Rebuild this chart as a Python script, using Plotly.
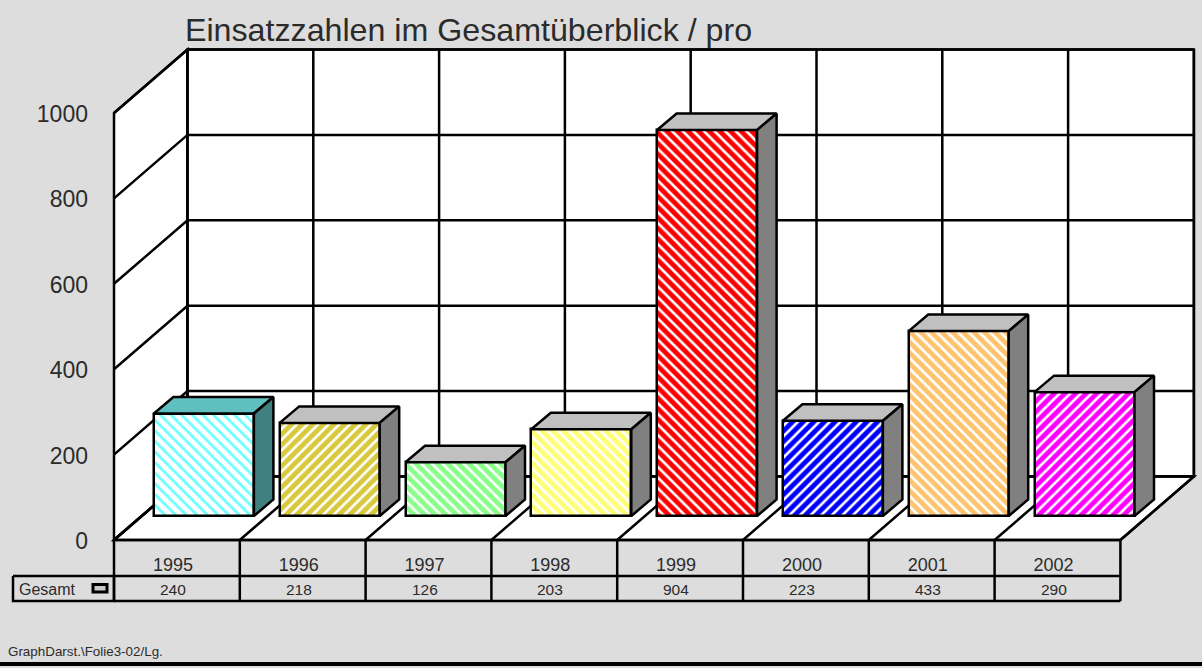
import plotly.graph_objects as go

# ---- data ----
categories = ["1995", "1996", "1997", "1998", "1999", "2000", "2001", "2002"]
values = [240, 218, 126, 203, 904, 223, 433, 290]
y_ticks = [0, 200, 400, 600, 800, 1000]
series_name = "Gesamt"
title_text = "Einsatzzahlen im Gesamtüberblick / pro"
footer_text = "GraphDarst.\\Folie3-02/Lg."
face_colors = ["#FFFFFF", "#D8C83C", "#88FF88", "#FFFF77", "#FF0000", "#0000FF", "#FFC36E", "#FF00FF"]
stripe_colors = ["#66FFFF", "#FFFFFF", "#FFFFFF", "#FFFFFF", "#FFFFFF", "#FFFFFF", "#FFFFFF", "#FFFFFF"]
stripe_shapes = ["\\", "/", "\\", "\\", "\\", "/", "\\", "/"]
top_colors = ["#60BFBF", "#C0C0C0", "#C0C0C0", "#C0C0C0", "#C0C0C0", "#C0C0C0", "#C0C0C0", "#C0C0C0"]
side_colors = ["#408080", "#808080", "#808080", "#808080", "#808080", "#808080", "#808080", "#808080"]

# ---- scale: pixels per data unit, origin of the front axis corner ----
W, H = 1202, 668
PX_CAT, PX_VAL = 125.8, 0.427
OX, OY = 114, 540
BG = "#DDDDDD"
TXT = "#2B2B2B"
LW = 2.5
FONT = "Liberation Sans"


def dx(px):
    return px / PX_CAT


def dy(px):
    return px / PX_VAL


n = len(categories)
DEPTH_X, DEPTH_Y = dx(73.5), dy(63.5)  # floor depth
TOP = max(y_ticks)
BAR_W = dx(100)
BAR_SHIFT = dx(27)
BAR_BASE = dy(24)
BAR_DX, BAR_DY = dx(19.5), dy(16.5)
ROW1, ROW2 = -dy(36), -dy(61)
LEFT_CELL = -dx(101)
LABEL_SHIFT = dx(4)

shapes = []


def poly(points, fill=None, width=LW):
    path = "M " + " L ".join(f"{x},{y}" for x, y in points) + (" Z" if fill else "")
    shapes.append(dict(type="path", path=path, xref="x", yref="y", layer="below",
                       fillcolor=fill or "rgba(0,0,0,0)",
                       line=dict(color="black", width=width)))


# walls and floor
poly([(0, 0), (DEPTH_X, DEPTH_Y), (DEPTH_X, TOP + DEPTH_Y), (0, TOP)], "white")
poly([(DEPTH_X, DEPTH_Y), (n + DEPTH_X, DEPTH_Y), (n + DEPTH_X, TOP + DEPTH_Y), (DEPTH_X, TOP + DEPTH_Y)], "white")
poly([(0, 0), (n, 0), (n + DEPTH_X, DEPTH_Y), (DEPTH_X, DEPTH_Y)], "white")
# grid
for t in y_ticks:
    poly([(0, t), (DEPTH_X, t + DEPTH_Y), (n + DEPTH_X, t + DEPTH_Y)])
for i in range(n + 1):
    poly([(i, 0), (i + DEPTH_X, DEPTH_Y), (i + DEPTH_X, TOP + DEPTH_Y)])
# data table
for y in (0, ROW1, ROW2):
    poly([(0, y), (n, y)])
for i in range(n + 1):
    poly([(i, 0), (i, ROW2)])
poly([(LEFT_CELL, ROW1), (0, ROW1), (0, ROW2), (LEFT_CELL, ROW2), (LEFT_CELL, ROW1)])
# legend key
poly([(-dx(21), -dy(44.5)), (-dx(7), -dy(44.5)), (-dx(7), -dy(52)), (-dx(21), -dy(52)), (-dx(21), -dy(44.5))], "#CCCCCC", 3)
# bottom rule
shapes.append(dict(type="rect", xref="paper", yref="paper", x0=0, x1=1, y0=1 - 666 / H, y1=1 - 662 / H,
                   fillcolor="black", line=dict(width=0), layer="above"))

fig = go.Figure()
xpos = [i + 0.5 + BAR_SHIFT for i in range(n)]
fig.add_trace(go.Bar(
    x=xpos, y=values, base=BAR_BASE, width=BAR_W,
    marker=dict(line=dict(color="black", width=LW),
                pattern=dict(shape=stripe_shapes, fgcolor=stripe_colors, bgcolor=face_colors,
                             size=7.5, solidity=0.35, fillmode="replace")),
    hoverinfo="skip", showlegend=False))

for xc, v, tc, sc in zip(xpos, values, top_colors, side_colors):
    l, r = xc - BAR_W / 2, xc + BAR_W / 2
    b, t = BAR_BASE, BAR_BASE + v
    fig.add_trace(go.Scatter(
        x=[l, r, r + BAR_DX, l + BAR_DX, l], y=[t, t, t + BAR_DY, t + BAR_DY, t],
        mode="lines", fill="toself", fillcolor=tc, line=dict(color="black", width=LW),
        hoverinfo="skip", showlegend=False))
    fig.add_trace(go.Scatter(
        x=[r, r + BAR_DX, r + BAR_DX, r, r], y=[b, b + BAR_DY, t + BAR_DY, t, b],
        mode="lines", fill="toself", fillcolor=sc, line=dict(color="black", width=LW),
        hoverinfo="skip", showlegend=False))

annotations = [
    dict(x=i + 0.5 - LABEL_SHIFT, y=-dy(49), xref="x", yref="y", text=str(v), showarrow=False,
         font=dict(size=15.5, color=TXT, family=FONT))
    for i, v in enumerate(values)
]
annotations.append(dict(x=LEFT_CELL + dx(4), y=-dy(49), xref="x", yref="y", text=series_name, showarrow=False,
                        xanchor="left", font=dict(size=16, color=TXT, family=FONT)))
annotations.append(dict(x=6 / W, y=1 - 651 / H, xref="paper", yref="paper", text=footer_text, showarrow=False,
                        xanchor="left", yanchor="middle", font=dict(size=13.4, color=TXT, family=FONT)))

fig.update_layout(
    width=W, height=H, margin=dict(l=0, r=0, t=0, b=0),
    paper_bgcolor=BG, plot_bgcolor=BG,
    font=dict(family=FONT, color=TXT),
    title=dict(text=title_text, x=185 / W, xanchor="left", xref="paper",
               y=1 - 30 / H, yref="paper", yanchor="middle",
               font=dict(size=32.2, color=TXT, family=FONT)),
    xaxis=dict(range=[-OX / PX_CAT, (W - OX) / PX_CAT], showgrid=False, zeroline=False, showline=False,
               tickmode="array", tickvals=[i + 0.5 - LABEL_SHIFT for i in range(n)], ticktext=categories, ticks="",
               tickfont=dict(size=18, color=TXT), anchor="free", position=1 - 552 / H),
    yaxis=dict(range=[(OY - H) / PX_VAL, OY / PX_VAL], showgrid=False, zeroline=False, showline=False,
               tickmode="array", tickvals=y_ticks, ticks="", ticklabelshift=1,
               tickfont=dict(size=23, color=TXT), anchor="free", position=88 / W),
    shapes=shapes, annotations=annotations, bargap=0,
)

fig.write_html("out.html", config=dict(displayModeBar=False),
               post_script="document.body.style.margin='0';document.body.style.overflow='hidden';")
